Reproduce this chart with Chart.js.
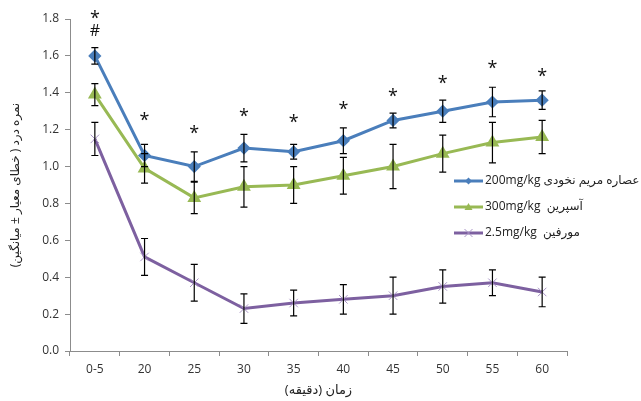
<!DOCTYPE html>
<html><head><meta charset="utf-8">
<script src="https://cdn.jsdelivr.net/npm/chart.js"></script>
<style>html,body{margin:0;padding:0;background:#fff;}#wrap{width:641px;height:401px;}</style>
</head><body><div id="wrap"><canvas id="c" width="641" height="401"></canvas></div>
<script>
const categories = ['0-5','20','25','30','35','40','45','50','55','60'];
const extractValues = [1.60,1.06,1.00,1.10,1.08,1.14,1.25,1.30,1.35,1.36];
const extractErrors = [0.045,0.06,0.08,0.075,0.04,0.07,0.04,0.06,0.08,0.05];
const aspirinValues = [1.39,0.99,0.83,0.89,0.90,0.95,1.00,1.07,1.13,1.16];
const aspirinErrors = [0.06,0.08,0.085,0.11,0.10,0.10,0.12,0.10,0.11,0.09];
const morphineValues = [1.15,0.51,0.37,0.23,0.26,0.28,0.30,0.35,0.37,0.32];
const morphineErrors = [0.09,0.10,0.10,0.08,0.07,0.08,0.10,0.09,0.07,0.08];
const starLevels = [1.82,1.27,1.20,1.29,1.26,1.33,1.40,1.47,1.55,1.51];
const hashLevels = [1.735,null,null,null,null,null,null,null,null,null];
const seriesLabels = ['\u2067عصاره مریم نخودی 200mg/kg\u2069','\u2067آسپرین  300mg/kg\u2069','\u2067مورفین  2.5mg/kg\u2069'];
const yTitle = '\u2067نمره درد ( خطای معیار ± میانگین)\u2069';
const xTitle = '\u2067زمان (دقیقه)\u2069';
const errorSets = [extractErrors, aspirinErrors, morphineErrors];

const FONT = "'Open Sans','DejaVu Sans',sans-serif";

const errorBarPlugin = {
  id: 'errorBars',
  afterDatasetsDraw(chart) {
    const ctx = chart.ctx, y = chart.scales.y;
    ctx.save();
    ctx.strokeStyle = '#000';
    ctx.lineWidth = 1.2;
    chart.data.datasets.forEach((ds, i) => {
      const meta = chart.getDatasetMeta(i);
      meta.data.forEach((pt, j) => {
        const v = ds.data[j], e = errorSets[i][j];
        const t = y.getPixelForValue(v + e), b = y.getPixelForValue(v - e);
        ctx.beginPath();
        ctx.moveTo(pt.x, t); ctx.lineTo(pt.x, b);
        ctx.moveTo(pt.x - 3.5, t); ctx.lineTo(pt.x + 3.5, t);
        ctx.moveTo(pt.x - 3.5, b); ctx.lineTo(pt.x + 3.5, b);
        ctx.stroke();
      });
    });
    ctx.fillStyle = '#111';
    ctx.textAlign = 'center';
    ctx.textBaseline = 'middle';
    const x = chart.scales.x;
    starLevels.forEach((lv, j) => {
      if (lv == null) return;
      ctx.font = "18px " + FONT;
      ctx.fillText('*', x.getPixelForValue(j), y.getPixelForValue(lv) + 4);
    });
    hashLevels.forEach((lv, j) => {
      if (lv == null) return;
      ctx.font = "16px " + FONT;
      ctx.fillText('#', x.getPixelForValue(j), y.getPixelForValue(lv));
    });
    ctx.restore();
  }
};

const legendPlugin = {
  id: 'customLegend',
  afterDraw(chart) {
    const ctx = chart.ctx;
    ctx.save();
    const x0 = 454, x1 = 483, ys = [181, 207, 233];
    chart.data.datasets.forEach((ds, i) => {
      const yy = ys[i];
      ctx.strokeStyle = ds.borderColor;
      ctx.lineWidth = 3;
      ctx.beginPath(); ctx.moveTo(x0, yy); ctx.lineTo(x1, yy); ctx.stroke();
      const cx = (x0 + x1) / 2;
      ctx.fillStyle = ds.pointBackgroundColor;
      ctx.strokeStyle = ds.pointBorderColor;
      ctx.lineWidth = 1;
      if (ds.pointStyle === 'rectRot') {
        ctx.beginPath(); ctx.moveTo(cx, yy-3.5); ctx.lineTo(cx+3.5, yy); ctx.lineTo(cx, yy+3.5); ctx.lineTo(cx-3.5, yy); ctx.closePath(); ctx.fill();
      } else if (ds.pointStyle === 'triangle') {
        ctx.beginPath(); ctx.moveTo(cx, yy-4); ctx.lineTo(cx+4, yy+3); ctx.lineTo(cx-4, yy+3); ctx.closePath(); ctx.fill();
      } else {
        ctx.beginPath(); ctx.moveTo(cx-4, yy-4); ctx.lineTo(cx+4, yy+4); ctx.moveTo(cx+4, yy-4); ctx.lineTo(cx-4, yy+4); ctx.stroke();
      }
      ctx.fillStyle = '#222';
      ctx.font = "12px " + FONT;
      ctx.textAlign = 'left';
      ctx.textBaseline = 'middle';
      ctx.fillText(ds.label, x1 + 2, yy);
    });
    ctx.restore();
  }
};

new Chart(document.getElementById('c'), {
  type: 'line',
  data: {
    labels: categories,
    datasets: [
      { label: seriesLabels[0], data: extractValues, borderColor: '#4A7EBB', backgroundColor: '#4A7EBB',
        pointBackgroundColor: '#4A7EBB', pointBorderColor: '#4A7EBB', pointStyle: 'rectRot', pointRadius: 4.5, borderWidth: 3, tension: 0 },
      { label: seriesLabels[1], data: aspirinValues, borderColor: '#98B954', backgroundColor: '#98B954',
        pointBackgroundColor: '#98B954', pointBorderColor: '#98B954', pointStyle: 'triangle', pointRadius: 5, borderWidth: 3, tension: 0 },
      { label: seriesLabels[2], data: morphineValues, borderColor: '#7D60A0', backgroundColor: '#7D60A0',
        pointBackgroundColor: '#A994C6', pointBorderColor: '#A994C6', pointStyle: 'crossRot', pointRadius: 6, pointBorderWidth: 1, borderWidth: 3, tension: 0 }
    ]
  },
  options: {
    responsive: false,
    animation: false,
    layout: { padding: { left: 8, right: 74, top: 19, bottom: 3 } },
    plugins: { legend: { display: false }, tooltip: { enabled: false } },
    scales: {
      x: {
        offset: true,
        grid: { display: true, drawOnChartArea: false, offset: true, tickLength: 5, color: '#8c8c8c' },
        border: { display: true, color: '#8c8c8c', width: 1 },
        ticks: { color: '#333', font: { size: 12, family: FONT }, padding: 6, maxRotation: 0 },
        title: { display: true, text: xTitle, color: '#222', font: { size: 13, family: FONT }, padding: { top: 4, bottom: 0 } },
        afterFit(s) { s.height = 47; }
      },
      y: {
        min: 0, max: 1.8,
        ticks: { stepSize: 0.2, color: '#333', font: { size: 12, family: FONT }, padding: 6,
          callback: v => Number(v).toFixed(1) },
        grid: { display: true, drawOnChartArea: false, tickLength: 5, color: '#8c8c8c' },
        border: { display: true, color: '#8c8c8c', width: 1 },
        title: { display: true, text: yTitle, color: '#222', font: { size: 12, family: FONT }, padding: { top: 0, bottom: 4 } },
        afterFit(s) { s.width = 62; }
      }
    }
  },
  plugins: [errorBarPlugin, legendPlugin]
});
</script></body></html>
